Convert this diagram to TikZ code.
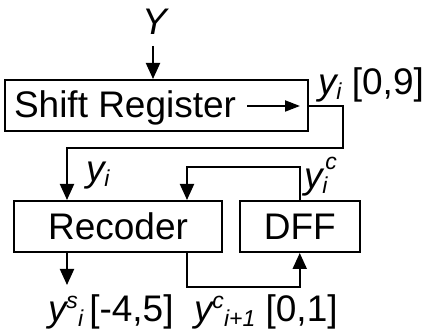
\documentclass[tikz,border=0pt]{standalone}
\usepackage{fontspec}
\setmainfont{Liberation Sans}
\usetikzlibrary{arrows.meta}
\newcommand{\lo}[1]{\raisebox{-0.12em}{\fontsize{11.5}{12}\selectfont #1}}
\newcommand{\hi}[1]{\raisebox{0.36em}{\fontsize{11.5}{12}\selectfont #1}}
\newcommand{\hii}[1]{\raisebox{0.52em}{\fontsize{11.5}{12}\selectfont #1}}
\begin{document}
\begin{tikzpicture}[x=0.5pt,y=-0.5pt, line width=1pt, font=\fontsize{18.5}{22}\selectfont,
  box/.style={draw, rectangle, inner sep=0pt},
  arr/.style={-{Triangle[length=8pt,width=7pt]}},
  iarr/.style={-{Triangle[length=7.5pt,width=5.5pt]}},
  lbl/.style={inner sep=0pt, anchor=base west}]
\useasboundingbox (0,0) rectangle (424,335);
% boxes
\node[box, minimum width=151.5pt, minimum height=25.75pt] (sr) at (156.5,105.75) {};
\node[lbl] (srt) at (13,118) {Shift Register};
\node[box, minimum width=104pt, minimum height=25.5pt] (rec) at (118,226.5) {Recoder};
\node[box, minimum width=60.25pt, minimum height=25.5pt] (dff) at (299.75,226.5) {DFF};
% input
\node[inner sep=0pt] (Y) at (155,22) {\itshape Y};
\coordinate (yin) at (153,46);
\draw[arr] (yin) -- (yin |- sr.north);
% internal arrow
\coordinate (ia) at (247,106);
\coordinate (ib) at (300,106);
\draw[iarr] (ia) -- (ib);
% shift register output to recoder
\coordinate (c1) at (343,148);
\coordinate (c2) at (67,148);
\draw[arr] (sr.east) -| (c1) -- (c2) -- (c2 |- rec.north);
% feedback DFF -> recoder
\coordinate (f1) at (299.75,167);
\coordinate (f2) at (187,167);
\draw[arr] (dff.north) -- (f1) -- (f2) -- (f2 |- rec.north);
% recoder output
\coordinate (so) at (67,285);
\draw[arr] (so |- rec.south) -- (so);
% carry to DFF
\coordinate (k1) at (187,287);
\draw[arr] (k1 |- rec.south) -- (k1) -| (dff.south);
% labels
\node[lbl] (l1) at (317,95) {\itshape y\lo{i}\upshape{} [0,9]};
\node[lbl] (l2) at (85,182) {\itshape y\lo{i}};
\node[lbl] (l3) at (303,189) {\itshape y\rlap{\hskip0.08em\hii{c}}\lo{i}};
\node[lbl] (l4) at (47,322) {\itshape y\hi{s}\lo{i}\upshape\,[-4,5]};
\node[lbl] (l5) at (193,322) {\itshape y\hi{c}\lo{i+1}\upshape{} [0,1]};
\end{tikzpicture}
\end{document}
